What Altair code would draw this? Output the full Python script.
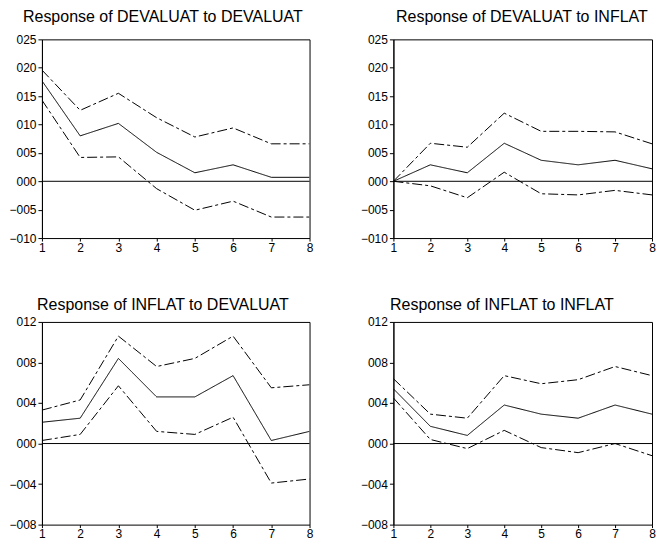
import altair as alt
import pandas as pd

steps = [1, 2, 3, 4, 5, 6, 7, 8]

titles = [
    "Response of DEVALUAT to DEVALUAT",
    "Response of DEVALUAT to INFLAT",
    "Response of INFLAT to DEVALUAT",
    "Response of INFLAT to INFLAT",
]

# Panel 1: DEVALUAT -> DEVALUAT
p1_mean = [0.0177, 0.0080, 0.0102, 0.0051, 0.0015, 0.0029, 0.0007, 0.0007]
p1_upper = [0.0196, 0.0125, 0.0155, 0.0112, 0.0078, 0.0094, 0.0066, 0.0066]
p1_lower = [0.0143, 0.0042, 0.0043, -0.0013, -0.0051, -0.0035, -0.0063, -0.0063]

# Panel 2: DEVALUAT -> INFLAT
p2_mean = [0.0, 0.0029, 0.0015, 0.0067, 0.0037, 0.0029, 0.0037, 0.0022]
p2_upper = [0.0, 0.0067, 0.0060, 0.0120, 0.0088, 0.0088, 0.0087, 0.0066]
p2_lower = [0.0, -0.0008, -0.0029, 0.0016, -0.0022, -0.0024, -0.0016, -0.0024]

# Panel 3: INFLAT -> DEVALUAT
p3_mean = [0.0021, 0.0025, 0.0084, 0.0046, 0.0046, 0.0067, 0.0003, 0.0012]
p3_upper = [0.0033, 0.0043, 0.0106, 0.0076, 0.0084, 0.0106, 0.0055, 0.0058]
p3_lower = [0.0003, 0.0009, 0.0057, 0.0012, 0.0009, 0.0026, -0.0039, -0.0035]

# Panel 4: INFLAT -> INFLAT
p4_mean = [0.0054, 0.0017, 0.0008, 0.0038, 0.0029, 0.0025, 0.0038, 0.0029]
p4_upper = [0.0064, 0.0029, 0.0025, 0.0067, 0.0059, 0.0063, 0.0076, 0.0067]
p4_lower = [0.0045, 0.0004, -0.0005, 0.0013, -0.0004, -0.0009, 0.0000, -0.0012]

top_ticks = [-0.010, -0.005, 0.0, 0.005, 0.010, 0.015, 0.020, 0.025]
bottom_ticks = [-0.008, -0.004, 0.0, 0.004, 0.008, 0.012]

FONT = "Liberation Sans"


def panel(title, mean, upper, lower, ticks, width, height, dx=0, offset=6):
    rows = []
    for name, vals in (("mean", mean), ("upper", upper), ("lower", lower)):
        for s, v in zip(steps, vals):
            rows.append({"step": s, "value": v, "band": name})
    df = pd.DataFrame(rows)
    yscale = alt.Scale(domain=[ticks[0], ticks[-1]], nice=False, zero=False)
    yaxis = alt.Axis(
        values=ticks,
        labelExpr="replace(format(datum.value, '.3f'), '0.', '')",
        tickSize=4,
        labelPadding=2,
        minExtent=33,
        maxExtent=33,
        title=None,
        grid=False,
    )
    xaxis = alt.Axis(
        values=steps,
        format="d",
        tickSize=3,
        labelPadding=1,
        labelFlush=False,
        domain=False,
        title=None,
        grid=False,
    )
    zero = alt.Chart(pd.DataFrame({"z": [0.0]})).mark_rule(
        color="black", strokeWidth=1
    ).encode(y=alt.Y("z:Q", scale=yscale, axis=yaxis))
    lines = alt.Chart(df).mark_line(color="black", strokeWidth=1, clip=True).encode(
        x=alt.X("step:Q", scale=alt.Scale(domain=[1, 8], nice=False, zero=False), axis=xaxis),
        y=alt.Y("value:Q", scale=yscale, axis=yaxis),
        detail="band:N",
        strokeDash=alt.StrokeDash(
            "band:N",
            scale=alt.Scale(domain=["mean", "upper", "lower"],
                            range=[[1, 0], [10, 3, 3, 3], [10, 3, 3, 3]]),
            legend=None,
        ),
    )
    return alt.layer(zero, lines).properties(
        width=width,
        height=height,
        title=alt.TitleParams(
            title, font=FONT, fontSize=16, fontWeight="normal", color="black",
            anchor="middle", frame="bounds", offset=offset, dx=dx,
        ),
    )


c1 = panel(titles[0], p1_mean, p1_upper, p1_lower, top_ticks, 268, 199, dx=2, offset=8)
c2 = panel(titles[1], p2_mean, p2_upper, p2_lower, top_ticks, 259, 199, dx=14, offset=8)
c3 = panel(titles[2], p3_mean, p3_upper, p3_lower, bottom_ticks, 268, 203, dx=2, offset=3)
c4 = panel(titles[3], p4_mean, p4_upper, p4_lower, bottom_ticks, 259, 203, dx=-6, offset=3)

chart = alt.vconcat(
    alt.hconcat(c1, c2, spacing=46),
    alt.hconcat(c3, c4, spacing=46),
    spacing=42,
).properties(
    padding={"left": 0, "top": 0, "right": 0, "bottom": 0},
).configure_axis(
    labelFont=FONT,
    labelFontSize=12,
    labelColor="black",
    tickColor="black",
    domainColor="black",
).configure_view(
    stroke="black", strokeWidth=1
)

chart.save("out.html", embed_options={"renderer": "svg", "actions": False})
